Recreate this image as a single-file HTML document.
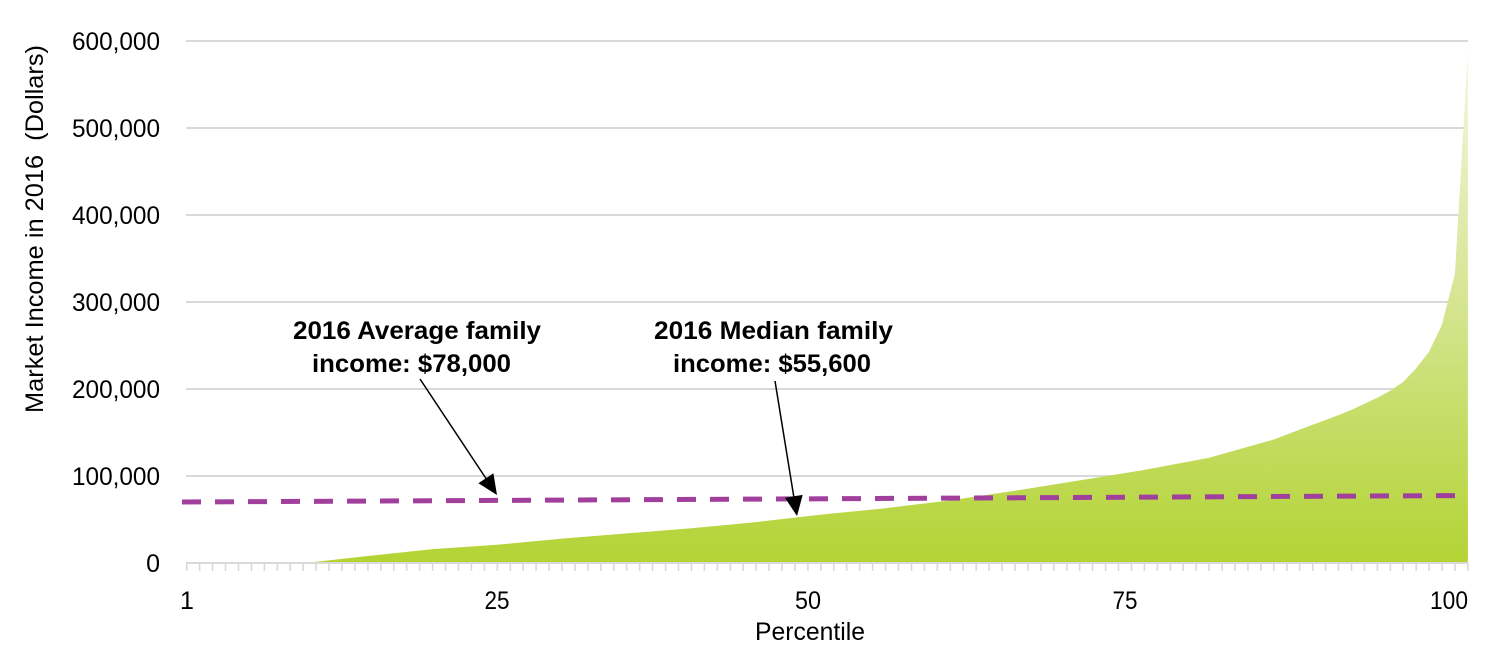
<!DOCTYPE html>
<html>
<head>
<meta charset="utf-8">
<style>
  html, body { margin:0; padding:0; background:#ffffff; }
  body { width:1500px; height:646px; overflow:hidden; }
  svg { display:block; }
  text { font-family: "Liberation Sans", "DejaVu Sans", sans-serif; fill:#000; }
</style>
</head>
<body>
<svg width="1500" height="646" viewBox="0 0 1500 646" xmlns="http://www.w3.org/2000/svg">
  <defs>
    <linearGradient id="g" gradientUnits="userSpaceOnUse" x1="0" y1="41" x2="0" y2="563">
      <stop offset="0" stop-color="#F5F8E5"/>
      <stop offset="0.5" stop-color="#D5E591"/>
      <stop offset="1" stop-color="#B3D334"/>
    </linearGradient>
  </defs>

  <!-- gridlines -->
  <g stroke="#D9D9D9" stroke-width="2">
    <line x1="186" y1="41" x2="1468" y2="41"/>
    <line x1="186" y1="128" x2="1468" y2="128"/>
    <line x1="186" y1="215" x2="1468" y2="215"/>
    <line x1="186" y1="302" x2="1468" y2="302"/>
    <line x1="186" y1="389" x2="1468" y2="389"/>
    <line x1="186" y1="476" x2="1468" y2="476"/>
  </g>

  <!-- area -->
  <polygon fill="url(#g)" points="
    303.2,563 316.1,561.7 367.9,556.0 432.6,549.1 497.3,544.7 562.0,538.6 626.7,533.4
    691.4,528.2 756.1,522.1 820.9,514.6 885.6,508.2 950.3,500.4 1015.0,490.8 1079.7,480.4
    1144.4,469.9 1209.1,457.7 1273.8,439.5 1312.6,424.7 1338.5,415.1 1351.5,409.9
    1364.4,403.8 1377.3,397.7 1390.3,390.7 1403.2,382.0 1416.2,368.1 1429.1,351.6
    1442.0,324.6 1455.0,273.3 1467.9,49.7 1467.9,563"/>

  <!-- average dashed line -->
  <line x1="182" y1="502" x2="1468" y2="495.5" stroke="#A0409C" stroke-width="5" stroke-dasharray="19 14"/>

  <!-- x axis -->
  <line x1="186" y1="563" x2="1468" y2="563" stroke="#D9D9D9" stroke-width="2"/>
  <g id="ticks" stroke="#D9D9D9" stroke-width="1.6"></g>

  <!-- y tick labels -->
  <g font-size="25" text-anchor="end">
    <text x="160" y="50" textLength="88" lengthAdjust="spacingAndGlyphs">600,000</text>
    <text x="160" y="137" textLength="88" lengthAdjust="spacingAndGlyphs">500,000</text>
    <text x="160" y="224" textLength="88" lengthAdjust="spacingAndGlyphs">400,000</text>
    <text x="160" y="311" textLength="88" lengthAdjust="spacingAndGlyphs">300,000</text>
    <text x="160" y="398" textLength="88" lengthAdjust="spacingAndGlyphs">200,000</text>
    <text x="160" y="485" textLength="88" lengthAdjust="spacingAndGlyphs">100,000</text>
    <text x="160" y="572">0</text>
  </g>

  <!-- x tick labels -->
  <g font-size="25" text-anchor="middle">
    <text x="187" y="609">1</text>
    <text x="497" y="609" textLength="25" lengthAdjust="spacingAndGlyphs">25</text>
    <text x="808" y="609" textLength="26" lengthAdjust="spacingAndGlyphs">50</text>
    <text x="1125" y="609" textLength="25" lengthAdjust="spacingAndGlyphs">75</text>
    <text x="1449" y="609" textLength="38" lengthAdjust="spacingAndGlyphs">100</text>
  </g>

  <!-- axis titles -->
  <text x="810" y="640" font-size="25" text-anchor="middle" textLength="110" lengthAdjust="spacingAndGlyphs">Percentile</text>
  <text transform="translate(43,229) rotate(-90)" x="0" y="0" font-size="25" text-anchor="middle" textLength="368" lengthAdjust="spacingAndGlyphs">Market Income in 2016&#160; (Dollars)</text>

  <!-- annotations -->
  <g font-size="25" font-weight="bold" text-anchor="middle">
    <text x="417" y="339" textLength="248" lengthAdjust="spacingAndGlyphs">2016 Average family</text>
    <text x="411.5" y="372" textLength="199" lengthAdjust="spacingAndGlyphs">income: $78,000</text>
    <text x="773.5" y="339" textLength="239" lengthAdjust="spacingAndGlyphs">2016 Median family</text>
    <text x="772" y="372" textLength="198" lengthAdjust="spacingAndGlyphs">income: $55,600</text>
  </g>

  <!-- arrows -->
  <line x1="420" y1="379" x2="487" y2="480" stroke="#000" stroke-width="1.5"/>
  <polygon points="497,495 478.4,483.3 493.4,473.3" fill="#000"/>
  <line x1="775" y1="381" x2="794" y2="498" stroke="#000" stroke-width="1.5"/>
  <polygon points="797,516 784.9,497.8 802.7,494.9" fill="#000"/>
</svg>
<script>
  (function(){
    var g = document.getElementById('ticks');
    var ns = 'http://www.w3.org/2000/svg';
    for (var i = 0; i < 100; i++) {
      var x = 186.7 + i * 12.942;
      var l = document.createElementNS(ns, 'line');
      l.setAttribute('x1', x.toFixed(1));
      l.setAttribute('x2', x.toFixed(1));
      l.setAttribute('y1', '563');
      l.setAttribute('y2', '571');
      g.appendChild(l);
    }
  })();
</script>
</body>
</html>
